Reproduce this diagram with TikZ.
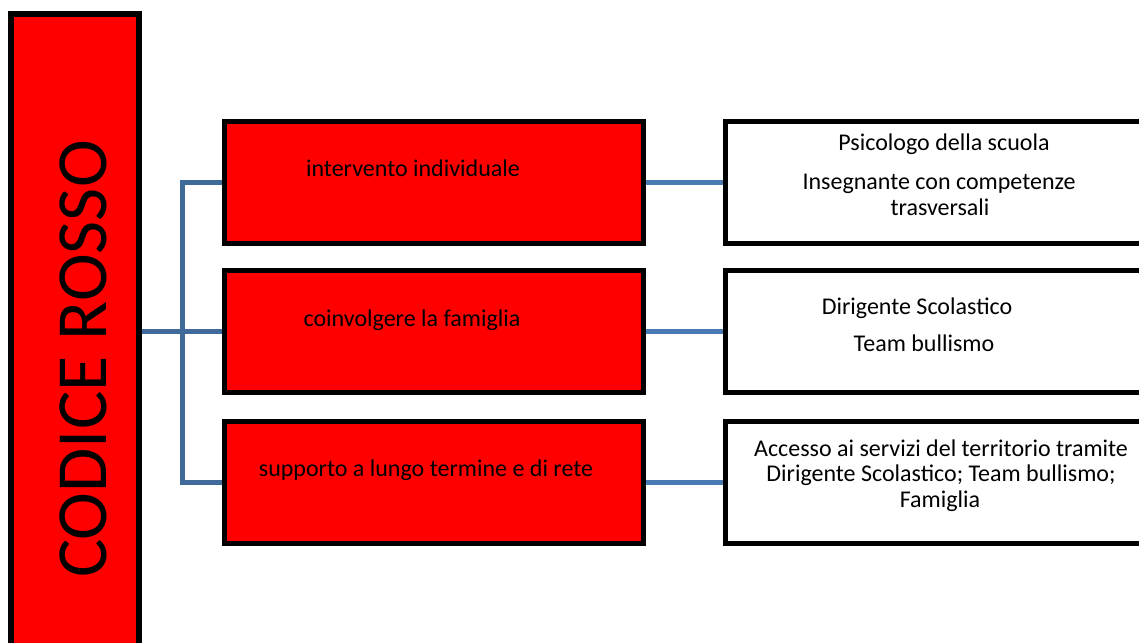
\documentclass[tikz,border=0pt]{standalone}
\usepackage{fontspec}
\setmainfont{Carlito}
\usetikzlibrary{backgrounds}
\definecolor{codred}{RGB}{255,0,0}
\definecolor{linkL}{RGB}{64,106,154}
\definecolor{linkR}{RGB}{74,122,180}
\begin{document}
\begin{tikzpicture}[x=1pt,y=-1pt,
  redbox/.style={draw=black, line width=5pt, fill=codred, minimum width=419pt, minimum height=122pt, inner sep=0pt},
  whitebox/.style={draw=black, line width=5pt, fill=white, minimum width=432pt, minimum height=122pt, inner sep=0pt},
  rootbox/.style={draw=black, line width=6pt, fill=codred, minimum width=128pt, minimum height=686pt, inner sep=0pt},
  txt/.style={anchor=base, inner sep=0pt, font=\fontsize{24}{26}\selectfont},
  bigtxt/.style={anchor=base, inner sep=0pt, rotate=90, font=\fontsize{72}{80}\selectfont},
  linkl/.style={draw=linkL, line width=5pt},
  linkr/.style={draw=linkR, line width=5pt}]
\useasboundingbox (0,0) rectangle (1139,642);

% root
\node[rootbox] (root) at (75,357) {};
\node[bigtxt] (roottxt) at (106,359) {CODICE ROSSO};

% red boxes
\node[redbox] (r1) at (434,182.5) {};
\node[redbox] (r2) at (434,331) {};
\node[redbox] (r3) at (434,482.5) {};

% white boxes
\node[whitebox] (w1) at (941.5,182.5) {};
\node[whitebox] (w2) at (941.5,331) {};
\node[whitebox] (w3) at (941.5,482.5) {};

% texts in red boxes
\node[txt] (r1t) at (413,176.7) {intervento individuale};
\node[txt] (r2t) at (412,326) {coinvolgere la famiglia};
\node[txt] (r3t) at (426,476) {supporto a lungo termine e di rete};

% texts in white boxes
\node[txt] (w1a) at (944,150) {Psicologo della scuola};
\node[txt] (w1b) at (939,189) {Insegnante con competenze};
\node[txt] (w1c) at (940,215) {trasversali};
\node[txt] (w2a) at (917,314.7) {Dirigente Scolastico};
\node[txt] (w2b) at (924,351) {Team bullismo};
\node[txt] (w3a) at (941,456.7) {Accesso ai servizi del territorio tramite};
\node[txt] (w3b) at (941,481.7) {Dirigente Scolastico; Team bullismo;};
\node[txt] (w3c) at (940,507.7) {Famiglia};

\coordinate (trunk) at (182,0);

\begin{scope}[on background layer]
  \draw[linkl] (r1.west) -- (trunk |- r1.west) -- (trunk |- r3.west) -- (r3.west);
  \draw[linkl] (root.east |- r2.west) -- (r2.west);
  \draw[linkr] (r1.east) -- (w1.west);
  \draw[linkr] (r2.east) -- (w2.west);
  \draw[linkr] (r3.east) -- (w3.west);
\end{scope}
\end{tikzpicture}
\end{document}
